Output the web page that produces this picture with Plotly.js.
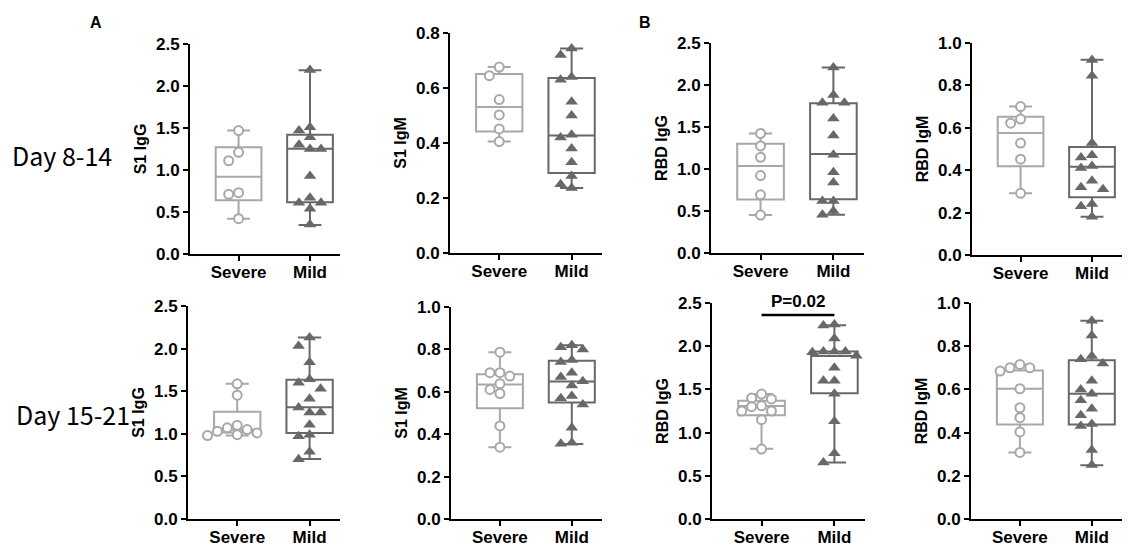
<!DOCTYPE html>
<html>
<head>
<meta charset="utf-8">
<script src="https://cdn.plot.ly/plotly-3.0.1.min.js"></script>
<style>html,body{margin:0;padding:0;background:#fff;}#chart{width:1142px;height:548px;}</style>
</head>
<body>
<div id="chart"></div>
<script>
// ---- data ----
const groups = ['Severe', 'Mild'];
const panelTitles = ['S1 IgG', 'S1 IgM', 'RBD IgG', 'RBD IgM', 'S1 IgG', 'S1 IgM', 'RBD IgG', 'RBD IgM'];
const yMax = [2.5, 0.8, 2.5, 1.0, 2.5, 1.0, 2.5, 1.0];
const yStep = [0.5, 0.2, 0.5, 0.2, 0.5, 0.2, 0.5, 0.2];
const rowLabels = ['Day 8-14', 'Day 15-21'];
const sectionLabels = ['A', 'B'];
const pText = 'P=0.02';

// points, Day 8-14
const s1IgG_d8_severe = [1.47, 1.21, 1.11, 0.73, 0.71, 0.42];
const s1IgG_d8_mild = [2.19, 1.51, 1.47, 1.39, 1.30, 1.25, 1.25, 0.93, 0.67, 0.61, 0.61, 0.54, 0.35];
const s1IgM_d8_severe = [0.676, 0.645, 0.558, 0.502, 0.451, 0.405];
const s1IgM_d8_mild = [0.744, 0.72, 0.64, 0.63, 0.55, 0.50, 0.43, 0.42, 0.38, 0.33, 0.28, 0.25, 0.236];
const rbdIgG_d8_severe = [1.424, 1.274, 1.139, 0.922, 0.692, 0.451];
const rbdIgG_d8_mild = [2.207, 1.88, 1.79, 1.79, 1.60, 1.40, 1.17, 0.96, 0.84, 0.62, 0.62, 0.50, 0.455];
const rbdIgM_d8_severe = [0.70, 0.641, 0.622, 0.528, 0.452, 0.291];
const rbdIgM_d8_mild = [0.92, 0.846, 0.528, 0.47, 0.46, 0.42, 0.41, 0.35, 0.32, 0.31, 0.24, 0.23, 0.18];
// points, Day 15-21
const s1IgG_d15_severe = [1.586, 1.453, 1.10, 1.07, 1.05, 1.03, 1.01, 0.99, 0.98];
const s1IgG_d15_mild = [2.13, 2.03, 1.84, 1.64, 1.60, 1.53, 1.41, 1.31, 1.25, 1.25, 1.105, 0.99, 0.97, 0.79, 0.70];
const s1IgM_d15_severe = [0.787, 0.69, 0.69, 0.674, 0.638, 0.611, 0.592, 0.439, 0.339];
const s1IgM_d15_mild = [0.82, 0.81, 0.80, 0.75, 0.74, 0.69, 0.67, 0.65, 0.63, 0.58, 0.57, 0.54, 0.43, 0.36, 0.355];
const rbdIgG_d15_severe = [1.446, 1.40, 1.39, 1.31, 1.30, 1.25, 1.25, 1.15, 0.81];
const rbdIgG_d15_mild = [2.25, 2.24, 2.09, 1.94, 1.94, 1.94, 1.93, 1.89, 1.75, 1.60, 1.60, 1.45, 1.13, 0.76, 0.654];
const rbdIgM_d15_severe = [0.715, 0.70, 0.70, 0.685, 0.603, 0.515, 0.469, 0.403, 0.308];
const rbdIgM_d15_mild = [0.918, 0.85, 0.755, 0.74, 0.72, 0.64, 0.60, 0.58, 0.55, 0.51, 0.48, 0.44, 0.43, 0.32, 0.25];

// box summaries [min, q1, median, q3, max]
const s1IgG_d8_box_severe = [0.42, 0.64, 0.92, 1.27, 1.47];
const s1IgG_d8_box_mild = [0.345, 0.615, 1.254, 1.42, 2.187];
const s1IgM_d8_box_severe = [0.405, 0.442, 0.531, 0.651, 0.676];
const s1IgM_d8_box_mild = [0.236, 0.291, 0.427, 0.636, 0.744];
const rbdIgG_d8_box_severe = [0.451, 0.637, 1.036, 1.30, 1.424];
const rbdIgG_d8_box_mild = [0.455, 0.641, 1.179, 1.784, 2.207];
const rbdIgM_d8_box_severe = [0.291, 0.419, 0.575, 0.652, 0.701];
const rbdIgM_d8_box_mild = [0.181, 0.272, 0.416, 0.509, 0.921];
const s1IgG_d15_box_severe = [0.98, 1.016, 1.047, 1.258, 1.586];
const s1IgG_d15_box_mild = [0.703, 1.008, 1.313, 1.633, 2.129];
const s1IgM_d15_box_severe = [0.339, 0.522, 0.635, 0.683, 0.787];
const s1IgM_d15_box_mild = [0.354, 0.549, 0.649, 0.746, 0.82];
const rbdIgG_d15_box_severe = [0.812, 1.20, 1.308, 1.369, 1.446];
const rbdIgG_d15_box_mild = [0.654, 1.454, 1.888, 1.94, 2.242];
const rbdIgM_d15_box_severe = [0.308, 0.438, 0.603, 0.688, 0.715];
const rbdIgM_d15_box_mild = [0.249, 0.438, 0.58, 0.735, 0.918];

const pointsSevere = [s1IgG_d8_severe, s1IgM_d8_severe, rbdIgG_d8_severe, rbdIgM_d8_severe,
  s1IgG_d15_severe, s1IgM_d15_severe, rbdIgG_d15_severe, rbdIgM_d15_severe];
const pointsMild = [s1IgG_d8_mild, s1IgM_d8_mild, rbdIgG_d8_mild, rbdIgM_d8_mild,
  s1IgG_d15_mild, s1IgM_d15_mild, rbdIgG_d15_mild, rbdIgM_d15_mild];
const boxSevere = [s1IgG_d8_box_severe, s1IgM_d8_box_severe, rbdIgG_d8_box_severe, rbdIgM_d8_box_severe,
  s1IgG_d15_box_severe, s1IgM_d15_box_severe, rbdIgG_d15_box_severe, rbdIgM_d15_box_severe];
const boxMild = [s1IgG_d8_box_mild, s1IgM_d8_box_mild, rbdIgG_d8_box_mild, rbdIgM_d8_box_mild,
  s1IgG_d15_box_mild, s1IgM_d15_box_mild, rbdIgG_d15_box_mild, rbdIgM_d15_box_mild];

// ---- layout geometry (pixels) ----
const W = 1142, H = 548;
const px = [ // [left, right, bottom, top]
  [190, 340, 254, 44], [450, 602, 253, 33], [711, 864, 253, 43], [972, 1122, 255, 43],
  [188, 340, 519, 306], [451, 602, 519, 307], [712, 865, 519, 303], [971, 1122, 519, 303]
];
const xRange = [-0.68, 1.42];
const colSevere = '#a8a8a8', colMild = '#686868';
const FONT = '"Liberation Sans", Arial, sans-serif';
const tickFont = {family: FONT, size: 17, color: '#000', weight: 'bold'};
const titleFont = {family: FONT, size: 16, color: '#000', weight: 'bold'};

function swarm(vals, center, pxX, pxY, diam) {
  const order = vals.map((v, i) => i).sort((a, b) => vals[b] - vals[a]);
  const placed = [];
  const xs = new Array(vals.length);
  const step = diam * 1.1;
  const tries = [0, -step, step, -2 * step, 2 * step, -3 * step, 3 * step];
  order.forEach(i => {
    const y = vals[i] * pxY;
    let off = 0;
    for (const t of tries) {
      const ok = placed.every(p => Math.abs(p.y - y) >= diam * 0.95 || Math.abs(p.x - t) >= step * 0.9);
      if (ok) { off = t; break; }
    }
    placed.push({x: off, y: y});
    xs[i] = center + off / pxX;
  });
  return xs;
}

const data = [];
const layout = {
  width: W, height: H,
  margin: {l: 0, r: 0, t: 0, b: 0},
  paper_bgcolor: '#fff', plot_bgcolor: 'rgba(0,0,0,0)',
  showlegend: false,
  boxmode: 'overlay',
  annotations: [], shapes: []
};

for (let p = 0; p < 8; p++) {
  const sfx = p === 0 ? '' : String(p + 1);
  const xa = 'x' + sfx, ya = 'y' + sfx;
  const [l, r, b, t] = px[p];
  layout['xaxis' + sfx] = {
    domain: [l / W, r / W], anchor: ya, range: xRange,
    tickvals: [0, 1], ticktext: groups, ticks: 'outside', ticklen: 5, tickwidth: 2, tickcolor: '#000',
    showline: true, linecolor: '#000', linewidth: 2, showgrid: false, zeroline: false,
    tickfont: tickFont, ticklabelstandoff: -3, fixedrange: true
  };
  layout['yaxis' + sfx] = {
    domain: [(H - b) / H, (H - t) / H], anchor: xa, range: [0, yMax[p]],
    dtick: yStep[p], tick0: 0, tickformat: '.1f', ticks: 'outside', ticklen: 5, tickwidth: 2, tickcolor: '#000',
    showline: true, linecolor: '#000', linewidth: 2, showgrid: false, zeroline: false,
    tickfont: tickFont, fixedrange: true,
    title: {text: panelTitles[p], font: titleFont, standoff: 5}
  };
  const pxX = (r - l) / (xRange[1] - xRange[0]);
  const pxY = (b - t) / yMax[p];
  [[boxSevere[p], colSevere, 0], [boxMild[p], colMild, 1]].forEach(([bx, col, xi]) => {
    data.push({
      type: 'box', xaxis: xa, yaxis: ya, x: [xi],
      lowerfence: [bx[0]], q1: [bx[1]], median: [bx[2]], q3: [bx[3]], upperfence: [bx[4]],
      width: 0.64, whiskerwidth: 0.5, boxpoints: false,
      line: {color: col, width: 2}, fillcolor: 'rgba(0,0,0,0)', hoverinfo: 'skip'
    });
  });
  data.push({
    type: 'scatter', mode: 'markers', xaxis: xa, yaxis: ya,
    x: swarm(pointsSevere[p], 0, pxX, pxY, 9), y: pointsSevere[p],
    marker: {symbol: 'circle', size: 9, color: '#fff', line: {color: colSevere, width: 2}},
    cliponaxis: false, hoverinfo: 'y'
  });
  data.push({
    type: 'scatter', mode: 'markers', xaxis: xa, yaxis: ya,
    x: swarm(pointsMild[p], 1, pxX, pxY, 10), y: pointsMild[p],
    marker: {symbol: 'triangle-up', size: 11, color: colMild, line: {width: 0}},
    cliponaxis: false, hoverinfo: 'y'
  });
}

// significance bar in RBD IgG Day 15-21 panel
layout.shapes.push({type: 'line', xref: 'x7', yref: 'y7', x0: 0, x1: 1, y0: 2.36, y1: 2.36,
  line: {color: '#000', width: 2.5}});
layout.annotations.push({xref: 'x7', yref: 'y7', x: 0.5, y: 2.38, yanchor: 'bottom', text: pText,
  showarrow: false, font: {family: FONT, size: 17, color: '#000', weight: 'bold'}});

// section and row labels
const secX = [96, 645];
sectionLabels.forEach((s, i) => layout.annotations.push({
  xref: 'paper', yref: 'paper', x: secX[i] / W, y: (H - 22) / H, text: s, showarrow: false,
  xanchor: 'center', yanchor: 'middle',
  font: {family: FONT, size: 16, color: '#000', weight: 'bold'}
}));
const rowPos = [[10, 155], [14, 414]];
rowLabels.forEach((s, i) => layout.annotations.push({
  xref: 'paper', yref: 'paper', x: rowPos[i][0] / W, y: (H - rowPos[i][1]) / H, text: s, showarrow: false,
  xanchor: 'left', yanchor: 'middle',
  font: {family: '"Noto Sans CJK SC", "Noto Sans", sans-serif', size: 25, color: '#000'}
}));

Plotly.newPlot('chart', data, layout, {displayModeBar: false, staticPlot: true});
</script>
</body>
</html>
